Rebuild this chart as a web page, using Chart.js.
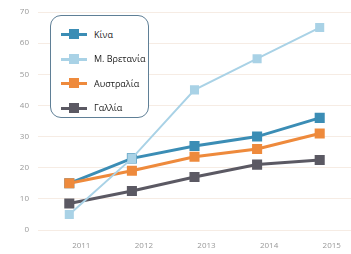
<!DOCTYPE html>
<html>
<head>
<meta charset="utf-8">
<script src="https://cdn.jsdelivr.net/npm/chart.js@4/dist/chart.umd.min.js"></script>
<style>
  html, body { margin: 0; padding: 0; background: #fff; }
  #wrap { position: relative; width: 351px; height: 254px; }
  #legend {
    position: absolute; left: 50px; top: 15px; width: 99px; height: 103px;
    border: 1.5px solid #5f7f96; border-radius: 11px; background: #fff;
    font-family: "Open Sans", "Noto Sans", sans-serif; font-size: 9px; color: #222;
    box-sizing: border-box;
  }
  .item { position: absolute; left: 10px; height: 12px; display: flex; align-items: center; }
  .mk { position: relative; width: 26px; height: 12px; margin-right: 7px; }
  .mk .ln { position: absolute; left: 0; right: 0; top: 5px; height: 3px; }
  .mk .sq { position: absolute; left: 8px; top: 1px; width: 10px; height: 10px; }
</style>
</head>
<body>
<div id="wrap">
  <canvas id="c" width="351" height="254"></canvas>
  <div id="legend"></div>
</div>
<script>
// ── data ─────────────────────────────────────────────────────────────
var years = ["2011", "2012", "2013", "2014", "2015"];
var names = ["Κίνα", "Μ. Βρετανία", "Αυστραλία", "Γαλλία"];
var china = [15, 23, 27, 30, 36];
var britain = [5, 23, 45, 55, 65];
var australia = [15, 19, 23.5, 26, 31];
var france = [8.5, 12.5, 17, 21, 22.5];
var colors = ["#3b8db5", "#a9d2e6", "#ee8a3c", "#5b5963"];

var series = [china, britain, australia, france];

var datasets = series.map(function (d, i) {
  return {
    label: names[i], data: d,
    borderColor: colors[i], backgroundColor: colors[i],
    borderWidth: i === 1 ? 2 : 3,
    pointStyle: "rect", pointRadius: 5, pointHoverRadius: 5,
    tension: 0, clip: false
  };
});
// draw light blue first so it sits under the others
datasets = [datasets[1], datasets[3], datasets[2], datasets[0]];

// ── legend (html) ────────────────────────────────────────────────────
var lg = document.getElementById("legend");
names.forEach(function (n, i) {
  var el = document.createElement("div");
  el.className = "item";
  el.style.top = (12 + i * 24.5) + "px";
  el.innerHTML = '<div class="mk"><div class="ln" style="background:' + colors[i] + '"></div>' +
    '<div class="sq" style="background:' + colors[i] + '"></div></div><span>' + n + '</span>';
  lg.appendChild(el);
});

// ── chart ────────────────────────────────────────────────────────────
new Chart(document.getElementById("c").getContext("2d"), {
  type: "line",
  data: { labels: years, datasets: datasets },
  options: {
    responsive: false, animation: false,
    layout: { autoPadding: false, padding: { left: 0, right: -3, top: 12, bottom: 0 } },
    plugins: { legend: { display: false }, tooltip: { enabled: false } },
    scales: {
      x: {
        offset: true,
        grid: { display: false },
        border: { display: false },
        ticks: { color: "#999", font: { family: "Open Sans", size: 8 }, padding: 3, labelOffset: 12, maxRotation: 0 },
        afterFit: function (s) { s.height = 24; s.paddingLeft = 0; s.paddingRight = 0; }
      },
      y: {
        min: 0, max: 70,
        grid: { color: "#f6ece4", drawTicks: false },
        border: { display: false },
        ticks: { stepSize: 10, color: "#999", font: { family: "Open Sans", size: 8 }, padding: 9 },
        afterFit: function (s) { s.width = 38; s.paddingTop = 0; s.paddingBottom = 0; }
      }
    }
  }
});
</script>
</body>
</html>
